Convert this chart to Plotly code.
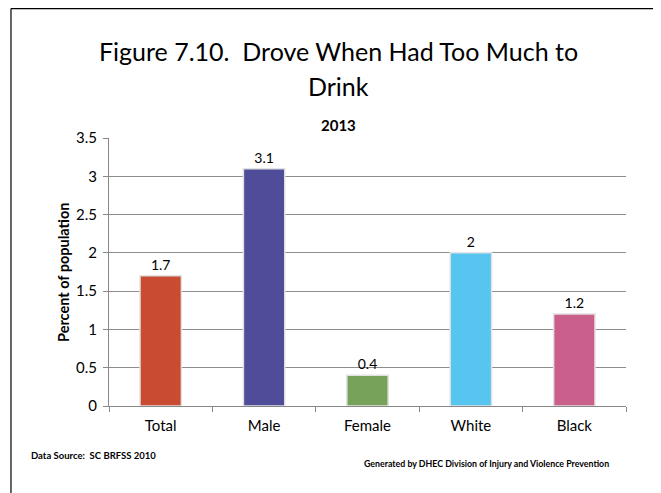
import plotly.graph_objects as go

categories = ["Total", "Male", "Female", "White", "Black"]
values = [1.7, 3.1, 0.4, 2, 1.2]
value_labels = ["1.7", "3.1", "0.4", "2", "1.2"]
bar_colors = ["#C84B32", "#4F4C9A", "#77A25A", "#56C6F0", "#CB5F8C"]
y_ticks = [0, 0.5, 1, 1.5, 2, 2.5, 3, 3.5]
y_tick_labels = ["0", "0.5", "1", "1.5", "2", "2.5", "3", "3.5"]

font = "Lato, Carlito, Calibri, sans-serif"

fig = go.Figure(go.Bar(
    x=categories, y=values, text=value_labels, textposition="outside",
    textfont=dict(size=14, color="#000000", family=font),
    marker=dict(color=bar_colors, line=dict(color="#E2E2E2", width=1.5)),
    width=0.4, cliponaxis=False,
))

fig.update_layout(
    width=661, height=493,
    margin=dict(l=101, r=43, t=130, b=95),
    paper_bgcolor="white", plot_bgcolor="white",
    font=dict(family=font, color="#000000"),
    showlegend=False,
    xaxis=dict(showline=True, linecolor="#888888", linewidth=1,
               ticks="outside", tickson="boundaries", ticklen=5, tickcolor="#888888",
               ticklabelstandoff=6,
               tickfont=dict(size=15, family=font), showgrid=False),
    yaxis=dict(range=[0, 3.5], tickvals=y_ticks, ticktext=y_tick_labels,
               showline=True, linecolor="#888888", linewidth=1,
               ticks="outside", ticklen=5, tickcolor="#888888",
               ticklabelstandoff=3,
               showgrid=True, gridcolor="#8C8C8C", gridwidth=1,
               tickfont=dict(size=15, family=font), zeroline=False),
    shapes=[
        # slide frame
        dict(type="line", xref="paper", yref="paper", x0=-0.1896, x1=-0.1896, y0=1.483, y1=-0.36,
             line=dict(color="#000000", width=1.2)),
        dict(type="line", xref="paper", yref="paper", x0=-0.1896, x1=1.09, y0=1.483, y1=1.483,
             line=dict(color="#000000", width=1.2)),
    ],
    annotations=[
        dict(text="Figure 7.10.  Drove When Had Too Much to", xref="paper", yref="paper",
             x=0.443, y=1.325, xanchor="center", yanchor="middle", showarrow=False,
             font=dict(size=25, family=font)),
        dict(text="Drink", xref="paper", yref="paper",
             x=0.443, y=1.194, xanchor="center", yanchor="middle", showarrow=False,
             font=dict(size=25, family=font)),
        dict(text="<b>2013</b>", xref="paper", yref="paper", x=0.443, y=1.0485,
             xanchor="center", yanchor="middle", showarrow=False,
             font=dict(size=15, family=font)),
        dict(text="<b>Percent of population</b>", xref="paper", yref="paper",
             x=-0.089, y=0.5, xanchor="center", yanchor="middle", textangle=-90,
             showarrow=False, font=dict(size=14.5, family=font)),
        dict(text="<b>Data Source:  SC BRFSS 2010</b>", xref="paper", yref="paper",
             x=-0.1547, y=-0.183, xanchor="left", yanchor="middle", showarrow=False,
             font=dict(size=9.5, family=font)),
        dict(text="<b>Generated by DHEC Division of Injury and Violence Prevention</b>",
             xref="paper", yref="paper", x=0.489, y=-0.2164, xanchor="left", yanchor="middle",
             showarrow=False, font=dict(size=8.8, family=font)),
    ],
)

fig.write_html("out.html")
